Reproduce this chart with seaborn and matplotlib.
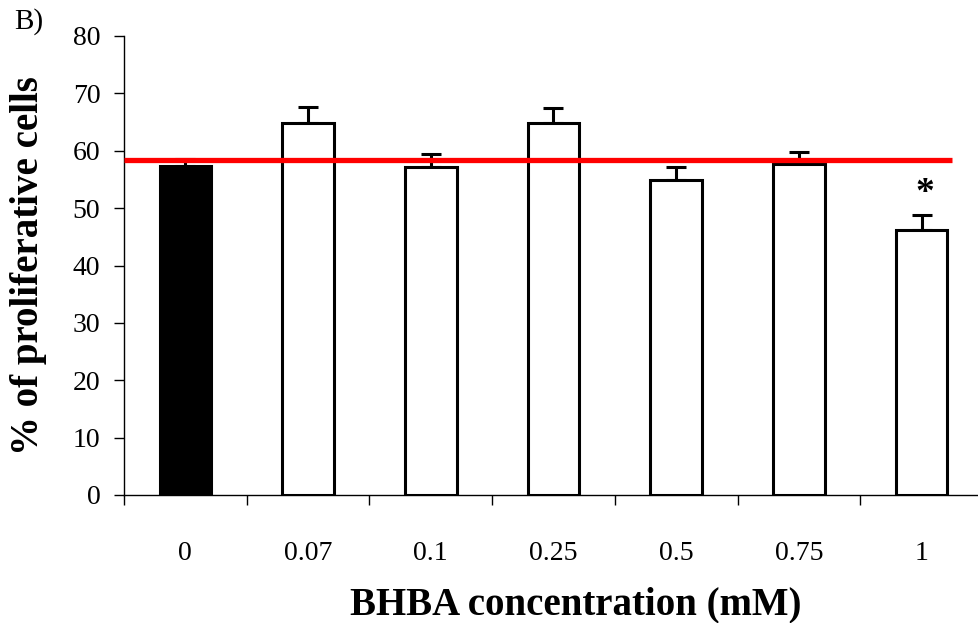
import matplotlib
matplotlib.use("Agg")
import matplotlib.pyplot as plt
import seaborn as sns
import pandas as pd
import numpy as np

categories = ["0", "0.07", "0.1", "0.25", "0.5", "0.75", "1"]
values = [57.3, 64.8, 57.2, 64.8, 54.9, 57.7, 46.2]
errors = [1.3, 2.9, 2.2, 2.6, 2.2, 2.1, 2.6]
bar_colors = ["black", "white", "white", "white", "white", "white", "white"]
control_level = 58.4
star_category = "1"
star_y = 52.5
yticks = [0, 10, 20, 30, 40, 50, 60, 70, 80]

sns.set_theme(style="white")
plt.rcParams["font.family"] = ["Liberation Serif", "DejaVu Serif"]
plt.rcParams["text.color"] = "black"
plt.rcParams["xtick.color"] = "black"
plt.rcParams["ytick.color"] = "black"
plt.rcParams["axes.labelcolor"] = "black"

df = pd.DataFrame({"conc": categories, "pct": values})

fig = plt.figure(figsize=(9.79, 6.23), dpi=100)
ax = fig.add_axes([124 / 979, 1 - 495 / 623, (978 - 124) / 979, (495 - 36) / 623])

sns.barplot(data=df, x="conc", y="pct", hue="conc", order=categories,
            hue_order=categories, palette=bar_colors, legend=False,
            edgecolor="black", linewidth=2.2, width=0.42, errorbar=None,
            saturation=1, ax=ax, zorder=2)

xpos = np.arange(len(categories))
ax.errorbar(xpos, values, yerr=[np.zeros(len(errors)), errors], fmt="none",
            ecolor="black", elinewidth=2.2, capsize=7, capthick=2.2, zorder=1)

ax.plot([-0.5, 6.25], [control_level, control_level], color="#ff0000",
        linewidth=3.8, solid_capstyle="butt", zorder=4, clip_on=False)

ax.text(categories.index(star_category) + 0.03, star_y, "*", ha="center",
        va="center", fontsize=27, fontweight="bold", color="black")

ax.set_ylim(0, 80)
ax.set_xlim(-0.5, 6.46)
ax.set_yticks(yticks)
ax.set_yticklabels([str(t) for t in yticks], fontsize=20)
ax.set_xticks(xpos)
ax.set_xticklabels(categories, fontsize=20)
ax.set_xticks(np.arange(-0.5, 6.0, 1.0), minor=True)
ax.tick_params(axis="x", which="major", length=0, pad=33)
ax.tick_params(axis="x", which="minor", length=7, width=1.0, direction="out",
               color="black", bottom=True)
ax.tick_params(axis="y", which="major", length=7, width=1.0, direction="out",
               color="black", left=True, pad=10)

for s in ["top", "right"]:
    ax.spines[s].set_visible(False)
for s in ["left", "bottom"]:
    ax.spines[s].set_color("black")
    ax.spines[s].set_linewidth(1.0)

ax.set_xlabel("")
ax.set_ylabel("% of proliferative cells", fontsize=28, fontweight="bold",
              color="black")
ax.yaxis.set_label_coords((47 - 124) / 854, 0.5)

fig.text(576 / 979, 1 - 605 / 623, "BHBA concentration (mM)", ha="center",
         va="center", fontsize=28, fontweight="bold", color="black")
fig.text(14 / 979, 1 - 22 / 623, "B)", ha="left", va="center", fontsize=21,
         color="black")

fig.savefig("out.png", dpi=100, facecolor="white")
